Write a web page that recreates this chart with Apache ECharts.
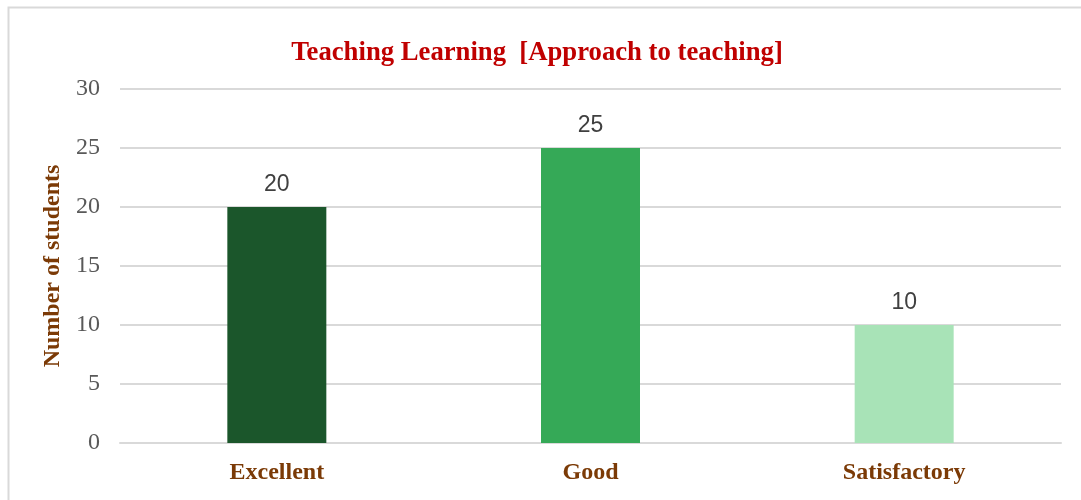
<!DOCTYPE html>
<html><head><meta charset="utf-8">
<script src="https://cdn.jsdelivr.net/npm/echarts@6/dist/echarts.min.js"></script>
<style>html,body{margin:0;padding:0;background:#fff}#c{width:1081px;height:500px}</style>
</head><body><div id="c"></div>
<script>
const categories = ['Excellent', 'Good', 'Satisfactory'];
const values = [20, 25, 10];
const barColors = ['#1b562b', '#35a957', '#a8e3b7'];
const titleText = 'Teaching Learning  [Approach to teaching]';
const yAxisName = 'Number of students';

const chart = echarts.init(document.getElementById('c'));
chart.setOption({
  animation: false,
  graphic: [{
    type: 'rect', left: 6, top: 5, silent: true,
    shape: { width: 1200, height: 700 },
    style: { fill: 'none', stroke: '#d9d9d9', lineWidth: 2 }
  }],
  title: {
    text: titleText, left: 532, top: 35, textAlign: 'center',
    textStyle: { fontFamily: 'Liberation Serif', fontWeight: 'bold', fontSize: 26.7, color: '#c00000' }
  },
  grid: { left: 120, right: 20, top: 89, bottom: 57, containLabel: false },
  xAxis: {
    type: 'category', data: categories,
    axisLine: { show: true, lineStyle: { color: '#d9d9d9', width: 2 } },
    axisTick: { show: false },
    axisLabel: { margin: 18, fontFamily: 'Liberation Serif', fontWeight: 'bold', fontSize: 24, color: '#7b3a06' }
  },
  yAxis: {
    type: 'value', min: 0, max: 30, interval: 5,
    name: yAxisName, nameLocation: 'middle', nameGap: 52, nameRotate: 90,
    nameTextStyle: { fontFamily: 'Liberation Serif', fontWeight: 'bold', fontSize: 24, color: '#7b3a06' },
    axisLine: { show: false }, axisTick: { show: false },
    axisLabel: { margin: 20, fontFamily: 'Liberation Serif', fontSize: 24, color: '#595959' },
    splitLine: { lineStyle: { color: '#d9d9d9', width: 2 } }
  },
  series: [{
    type: 'bar', barWidth: 99,
    data: values.map((v, i) => ({ value: v, itemStyle: { color: barColors[i] } })),
    label: { show: true, position: 'top', distance: 11, fontFamily: 'Liberation Sans', fontSize: 23, color: '#404040' }
  }]
});
</script></body></html>
